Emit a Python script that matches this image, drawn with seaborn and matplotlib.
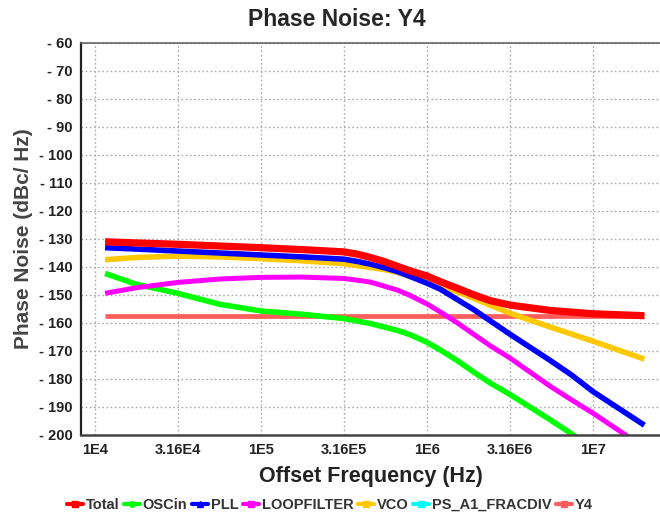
import numpy as np
import pandas as pd
import matplotlib
matplotlib.use("Agg")
import matplotlib.pyplot as plt
from matplotlib.lines import Line2D
import seaborn as sns

freq = [1.15e4, 1.78e4, 3.16e4, 5.62e4, 1e5, 1.78e5, 3.16e5, 3.8e5, 4.57e5, 5.5e5,
        6.61e5, 7.94e5, 1e6, 1.2e6, 1.51e6, 1.91e6, 2.4e6, 3.16e6, 5.5e6, 7.4e6,
        1e7, 2.04e7]

# Phase noise per source (dBc/Hz)
total = [-131.0, -131.4, -131.9, -132.5, -133.1, -133.8, -134.6, -135.4, -136.6, -138.0,
         -139.7, -141.4, -143.2, -145.2, -147.5, -149.9, -152.0, -153.6, -155.5, -156.1,
         -156.7, -157.4]
oscin = [-142.3, -146.2, -149.4, -153.3, -155.7, -156.9, -158.4, -159.3, -160.2, -161.4,
         -162.6, -164.2, -166.9, -169.6, -173.3, -177.5, -181.4, -185.5, -194.5, -199.5,
         -205.0, -218.0]
pll = [-133.1, -133.6, -134.3, -135.0, -135.7, -136.4, -137.2, -138.0, -139.0, -140.2,
       -141.6, -143.4, -145.8, -147.9, -151.5, -155.2, -159.2, -164.0, -173.3, -178.5,
       -184.5, -196.5]
loopfilter = [-149.4, -147.4, -145.5, -144.3, -143.7, -143.6, -144.1, -144.7, -145.4, -146.8,
              -148.2, -150.2, -153.2, -156.0, -159.8, -164.0, -168.1, -172.5, -182.5, -187.4,
              -192.2, -204.5]
vco = [-137.4, -136.6, -136.1, -136.4, -137.0, -137.8, -138.8, -139.5, -140.2, -140.9,
       -141.9, -143.4, -145.2, -146.9, -148.8, -151.2, -153.6, -156.5, -161.4, -163.9,
       -166.5, -172.9]
y4 = [-157.5] * len(freq)

xticks = [1e4, 3.16e4, 1e5, 3.16e5, 1e6, 3.16e6, 1e7]
xtick_labels = ["1E4", "3.16E4", "1E5", "3.16E5", "1E6", "3.16E6", "1E7"]
yticks = list(range(-60, -201, -10))

sns.set_style("white")
plt.rcParams["font.family"] = ["Liberation Sans", "DejaVu Sans"]
plt.rcParams["font.weight"] = "bold"

fig = plt.figure(figsize=(6.6, 5.15), dpi=100)
ax = fig.add_axes([81 / 660, 80 / 515, 579 / 660, 392 / 515])

# (values, colour, width in points) - drawn bottom to top
series = [
    (y4, "#ff5c5c", 3.4),
    (oscin, "#00ff00", 4.0),
    (loopfilter, "#ff00ff", 3.6),
    (vco, "#ffc800", 4.0),
    (pll, "#0000ff", 4.0),
    (total, "#ff0000", 5.2),
]
for vals, col, lw in series:
    df = pd.DataFrame({"freq": freq, "pn": vals})
    sns.lineplot(data=df, x="freq", y="pn", color=col, linewidth=lw, ax=ax,
                 solid_capstyle="butt")

ax.set_xscale("log")
ax.set_xlim(10 ** 3.9157, 10 ** 7.4036)
ax.set_ylim(-200, -60)
ax.set_xticks(xticks)
ax.set_xticklabels(xtick_labels)
ax.xaxis.set_minor_locator(matplotlib.ticker.NullLocator())
ax.set_yticks(yticks)
ax.set_yticklabels(["- %d" % abs(v) for v in yticks])
ax.tick_params(length=0, labelsize=10.5, colors="#222222", pad=6)
for lab in ax.get_xticklabels() + ax.get_yticklabels():
    lab.set_fontweight("bold")
ax.grid(True, color="#aaaaaa", linestyle=(0, (1.2, 1.8)), linewidth=1.0)

ax.spines["right"].set_visible(False)
ax.spines["top"].set_color("#666666")
ax.spines["top"].set_linewidth(1.2)
ax.spines["left"].set_color("#222222")
ax.spines["left"].set_linewidth(1.6)
ax.spines["bottom"].set_color("#444444")
ax.spines["bottom"].set_linewidth(1.8)

fig.suptitle("Phase Noise: Y4", x=337 / 660, y=0.985, fontsize=16.5, fontweight="bold")
ax.set_xlabel("Offset Frequency (Hz)", fontsize=15.5, fontweight="bold",
              color="#222222", labelpad=6)
ax.set_ylabel("Phase Noise (dBc/ Hz)", fontsize=15, fontweight="bold",
              color="#444444", labelpad=4)

legend_items = [
    ("Total", "#ff0000", "s"),
    ("OSCin", "#00ff00", "o"),
    ("PLL", "#0000ff", "^"),
    ("LOOPFILTER", "#ff00ff", "s"),
    ("VCO", "#ffc800", "s"),
    ("PS_A1_FRACDIV", "#00ffff", "s"),
    ("Y4", "#ff5c5c", "s"),
]
handles = [Line2D([0], [0], color=c, lw=3, marker=m, markersize=4) for _, c, m in legend_items]
fig.legend(handles, [n for n, _, _ in legend_items], loc="lower center",
           bbox_to_anchor=(0.5, -0.02), ncol=7, frameon=False,
           handlelength=1.1, handletextpad=0.15, columnspacing=0.35,
           prop={"size": 10.5, "weight": "bold"}, labelcolor="#333333")

fig.savefig("out.png", dpi=100)
